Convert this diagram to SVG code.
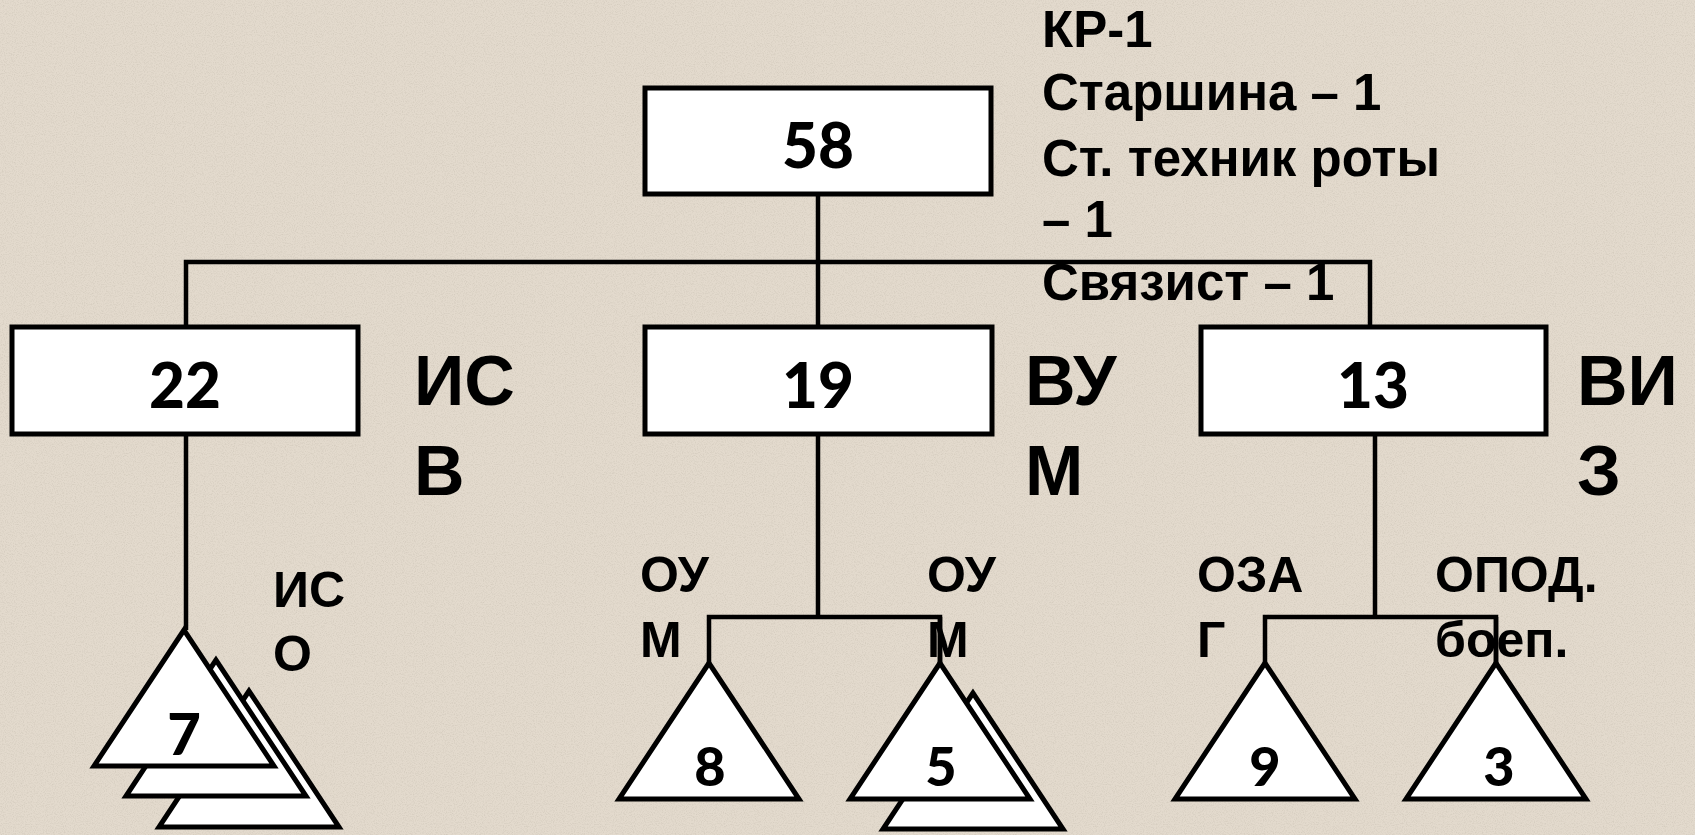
<svg xmlns="http://www.w3.org/2000/svg" width="1695" height="835" viewBox="0 0 1695 835">
<style>
.box{fill:#fff;stroke:#000;stroke-width:5}
.tri{fill:#fff;stroke:#000;stroke-width:5;stroke-linejoin:miter}
.ln{fill:none;stroke:#000;stroke-width:4.5}
.num{font-family:Lato,"Open Sans","Liberation Sans",sans-serif;font-weight:900;fill:#000;text-anchor:middle}
.big{font-family:"Liberation Sans",Arial,sans-serif;font-weight:bold;font-size:70px;fill:#000}
.sm{font-family:"Liberation Sans",Arial,sans-serif;font-weight:bold;font-size:50px;fill:#000}
.top{font-family:"Liberation Sans",Arial,sans-serif;font-weight:bold;font-size:51px;fill:#000}
</style>
<defs>
<filter id="speck" x="0" y="0" width="100%" height="100%">
<feTurbulence type="fractalNoise" baseFrequency="0.9" numOctaves="2" seed="3"/>
<feColorMatrix type="matrix" values="0 0 0 0 0.55  0 0 0 0 0.5  0 0 0 0 0.42  0 0 0 -2.2 1.25"/>
</filter>
<polygon id="t" points="0,0 -90,136 90,136"/>
</defs>
<rect width="1695" height="835" fill="#e3dacd"/>
<rect width="1695" height="835" filter="url(#speck)" opacity="0.45"/>

<g id="connectors">
<path class="ln" d="M818 194 V327"/>
<path class="ln" d="M186 327 V262 H1370 V327"/>
<path class="ln" d="M186 434 V630"/>
<path class="ln" d="M818 434 V617"/>
<path class="ln" d="M709 663 V617 H940 V663"/>
<path class="ln" d="M1375 434 V617"/>
<path class="ln" d="M1265 663 V617 H1496 V663"/>
</g>

<g id="node-58">
<rect class="box" x="645" y="88" width="346" height="106"/>
<text class="num" x="818" y="168" font-size="62">58</text>
</g>
<g id="staff-text">
<text class="top" x="1042" y="47">КР-1</text>
<text class="top" x="1042" y="110">Старшина – 1</text>
<text class="top" x="1042" y="176">Ст. техник роты</text>
<text class="top" x="1042" y="237">– 1</text>
<text class="top" x="1042" y="300">Связист – 1</text>
</g>

<g id="node-22">
<rect class="box" x="12" y="327" width="346" height="107"/>
<text class="num" x="185" y="408" font-size="62">22</text>
<text class="big" x="414" y="405">ИС</text>
<text class="big" x="414" y="495">В</text>
</g>
<g id="node-19">
<rect class="box" x="645" y="327" width="347" height="107"/>
<text class="num" x="818" y="408" font-size="62">19</text>
<text class="big" x="1025" y="405">ВУ</text>
<text class="big" x="1025" y="495">М</text>
</g>
<g id="node-13">
<rect class="box" x="1201" y="327" width="345" height="107"/>
<text class="num" x="1373" y="408" font-size="62">13</text>
<text class="big" x="1577" y="405">ВИ</text>
<text class="big" x="1577" y="495">З</text>
</g>

<g id="node-7">
<use href="#t" class="tri" x="249" y="691"/>
<use href="#t" class="tri" x="216" y="660"/>
<use href="#t" class="tri" x="184" y="630"/>
<text class="num" x="184" y="755" font-size="58">7</text>
<text class="sm" x="273" y="607">ИС</text>
<text class="sm" x="273" y="671">О</text>
</g>
<g id="node-8">
<use href="#t" class="tri" x="709" y="663"/>
<text class="num" x="710" y="786" font-size="54">8</text>
<text class="sm" x="640" y="592">ОУ</text>
<text class="sm" x="640" y="657">М</text>
</g>
<g id="node-5">
<use href="#t" class="tri" x="973" y="693"/>
<use href="#t" class="tri" x="940" y="663"/>
<text class="num" x="941" y="786" font-size="54">5</text>
<text class="sm" x="927" y="592">ОУ</text>
<text class="sm" x="927" y="657">М</text>
</g>
<g id="node-9">
<use href="#t" class="tri" x="1265" y="663"/>
<text class="num" x="1265" y="786" font-size="54">9</text>
<text class="sm" x="1197" y="592">ОЗА</text>
<text class="sm" x="1197" y="657">Г</text>
</g>
<g id="node-3">
<use href="#t" class="tri" x="1496" y="663"/>
<text class="num" x="1499" y="786" font-size="54">3</text>
<text class="sm" x="1435" y="592">ОПОД.</text>
<text class="sm" x="1435" y="657">боеп.</text>
</g>
<path class="ln" d="M940 617 V663 M1496 617 V663"/>
</svg>
